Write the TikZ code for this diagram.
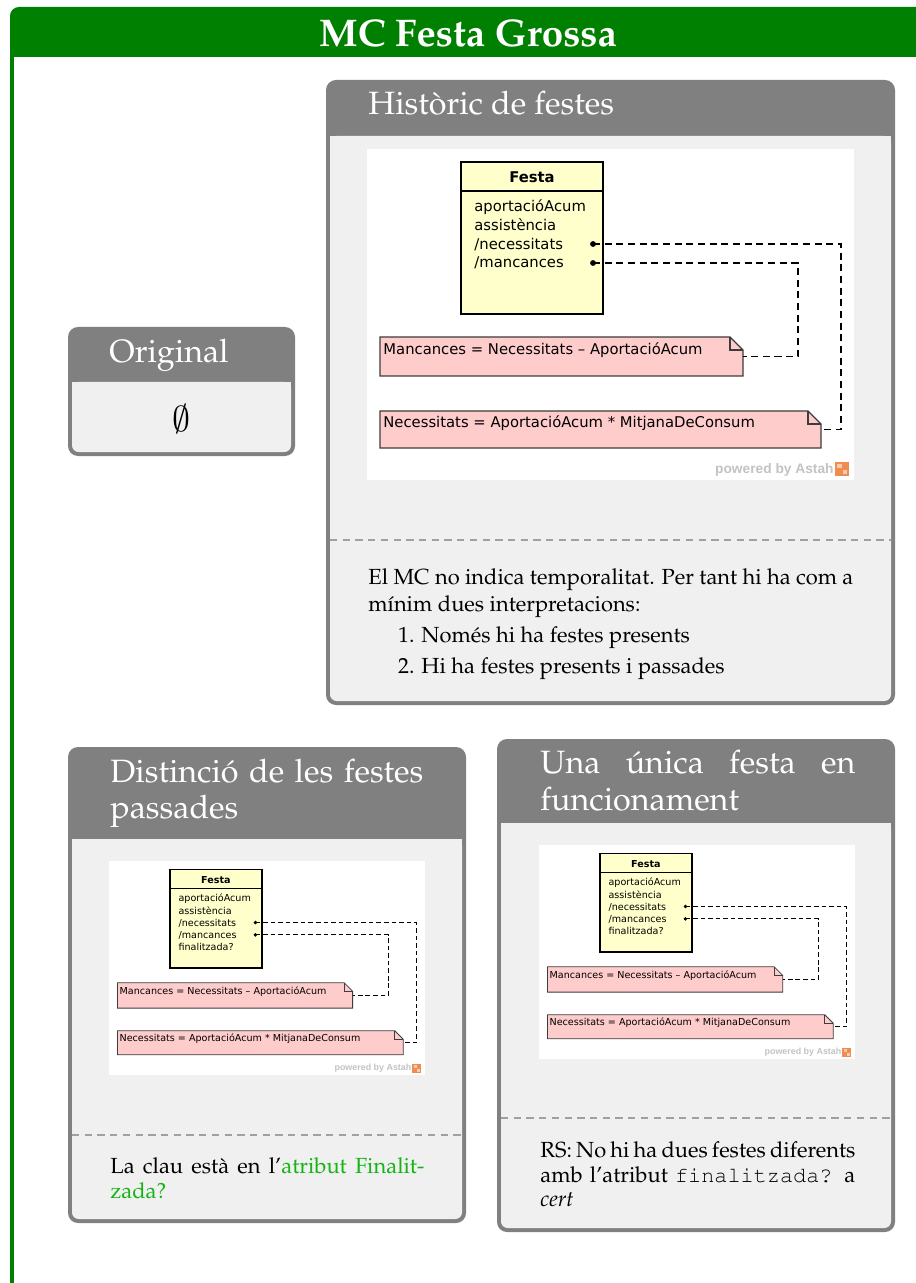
\documentclass[tikz,border=0pt]{standalone}
\usepackage{fontspec}
\usepackage[T1]{fontenc}
\usepackage{mathpazo}
\usepackage{courier}
\newfontfamily\astahfont{DejaVu Sans}
\newfontfamily\pwfont{Liberation Sans}
\newdimen\pxu \pxu=0.48pt
\newcommand\cmempty{{\fontencoding{OMS}\fontfamily{cmsy}\selectfont\char"3B}}
\definecolor{framegreen}{RGB}{0,128,0}
\definecolor{boxgray}{RGB}{128,128,128}
\definecolor{boxbody}{RGB}{240,240,240}
\definecolor{linkgreen}{RGB}{20,180,20}
\definecolor{classyellow}{RGB}{255,255,204}
\definecolor{notepink}{RGB}{255,204,204}
\definecolor{notegray}{RGB}{60,60,60}
\definecolor{sepgray}{RGB}{160,160,160}
\definecolor{pwgray}{RGB}{195,195,195}
\definecolor{astahorange}{RGB}{240,140,80}
\tikzset{
  titletext/.style={font=\fontsize{18.5}{22}\selectfont\bfseries, text=white, inner sep=0, anchor=base},
  hdrtext/.style={font=\fontsize{15.5}{18.7}\selectfont, text=white, inner sep=0, anchor=base west},
  bodytext/.style={font=\fontsize{10.5}{13.5}\selectfont, text=black, inner sep=0, anchor=base west},
  afont/.style={font=\astahfont\fontsize{7.1}{8.5}\selectfont, text=black, inner sep=0, anchor=base west},
  abold/.style={font=\astahfont\bfseries\fontsize{7.1}{8.5}\selectfont, text=black, inner sep=0},
  pwtext/.style={font=\pwfont\bfseries\fontsize{6.6}{8}\selectfont, text=pwgray, inner sep=0, anchor=base east},
  dotnode/.style={circle, fill=black, inner sep=0, minimum size=2.8pt},
  notearea/.style={draw=none, inner sep=0, rectangle},
  septline/.style={draw=sepgray, line width=0.5pt, dash pattern=on 3.5pt off 2.6pt},
}
\newcommand\infobox[5]{%
  \fill[boxgray, rounded corners=4.8pt] (#1,#2) rectangle (#3,#4);
  \fill[boxbody, rounded corners=3.2pt] (#1+4,#5) rectangle (#3-4,#4-4);
  \fill[boxbody] (#1+4,#5) rectangle (#3-4,#5+12);
}
\newcommand\astahdiag[5]{%
  \begin{scope}[shift={(#2,#3)}, scale=#4, transform shape]
    \pgfmathsetmacro\lwc{1.3*#4}%
    \pgfmathsetmacro\lwn{0.6*#4}%
    \pgfmathsetmacro\lwd{0.65*#4}%
    \pgfmathsetmacro\don{3.4*#4}%
    \pgfmathsetmacro\doff{2.2*#4}%
    \fill[white] (0,0) rectangle (487,331);
    % class
    \fill[classyellow] (94,13) rectangle (236,165);
    \draw[line width=\lwc pt] (94,13) rectangle (236,165);
    \draw[line width=\lwn pt] (94,42) -- (236,42);
    \node[abold, anchor=base] (#1cls) at (165,34) {Festa};
    \node[afont] (#1a1) at (107,63) {aportacióAcum};
    \node[afont] (#1a2) at (107,82) {assistència};
    \node[afont] (#1a3) at (107,101) {/necessitats};
    \node[afont] (#1a4) at (107,119) {/mancances};
    \if\relax\detokenize{#5}\relax\else
      \node[afont] (#1a5) at (107,138) {#5};
    \fi
    \node[dotnode] (#1d1) at (226,95) {};
    \node[dotnode] (#1d2) at (226,114) {};
    % notes
    \fill[notepink] (13,188) -- (363,188) -- (376,201) -- (376,227) -- (13,227) -- cycle;
    \draw[notegray, line width=\lwn pt] (13,188) -- (363,188) -- (376,201) -- (376,227) -- (13,227) -- cycle;
    \draw[notegray, line width=\lwn pt] (363,188) -- (363,201) -- (376,201);
    \node[notearea, minimum width=363\pxu, minimum height=39\pxu] (#1n1) at (194.5,207.5) {};
    \node[afont] (#1t1) at (16,206) {Mancances = Necessitats – AportacióAcum};
    \fill[notepink] (13,262) -- (441,262) -- (454,275) -- (454,299) -- (13,299) -- cycle;
    \draw[notegray, line width=\lwn pt] (13,262) -- (441,262) -- (454,275) -- (454,299) -- (13,299) -- cycle;
    \draw[notegray, line width=\lwn pt] (441,262) -- (441,275) -- (454,275);
    \node[notearea, minimum width=441\pxu, minimum height=37\pxu] (#1n2) at (233.5,280.5) {};
    \node[afont] (#1t2) at (16,279) {Necessitats = AportacióAcum * MitjanaDeConsum};
    % connectors
    \coordinate (#1c1) at (474,95);
    \coordinate (#1c2) at (431,114);
    \draw[line width=\lwd pt, dash pattern=on \don pt off \doff pt] (#1d1.center) -- (#1c1) |- (#1n2.east);
    \draw[line width=\lwd pt, dash pattern=on \don pt off \doff pt] (#1d2.center) -- (#1c2) |- (#1n1.east);
    % powered by
    \node[pwtext] (#1pw) at (467,324) {powered by Astah};
    \fill[astahorange] (468,313) rectangle (482,327);
    \fill[astahorange!45] (470,315) rectangle (475,319);
    \fill[astahorange!45] (476,321) rectangle (480,325);
  \end{scope}
}
\begin{document}
\begin{tikzpicture}[x=0.48pt, y=-0.48pt]
\useasboundingbox (0,0) rectangle (915,1283);
% outer frame
\fill[framegreen, rounded corners=4.3pt] (10,7) rectangle (980,1340);
\fill[white] (14,57) rectangle (980,1340);
\node[titletext] (title) at (468,47) {MC Festa Grossa};

% Original
\infobox{68}{327}{295}{456}{382}
\node[hdrtext] (orig) at (109,363) {Original};
\node[font=\fontsize{17.5}{20}\selectfont, inner sep=0] (empty) at (181,419) {\cmempty};

% Historic
\infobox{326}{80}{895}{705}{136}
\node[hdrtext] (hist) at (368,115) {Històric de festes};
\astahdiag{h}{367}{149}{1}{}
\draw[septline] (330,540) -- (891,540);
\node[bodytext] (h1) at (368,584) {\makebox[485\pxu][s]{El MC no indica temporalitat. Per tant hi ha com a}};
\node[bodytext] (h2) at (368,611) {mínim dues interpretacions:};
\node[bodytext, anchor=base east] (h3n) at (415,642) {1.};
\node[bodytext] (h3) at (421,642) {Només hi ha festes presents};
\node[bodytext, anchor=base east] (h4n) at (415,673) {2.};
\node[bodytext] (h4) at (421,673) {Hi ha festes presents i passades};

% Distincio
\infobox{68}{747}{466}{1223}{839}
\node[hdrtext] (dist1) at (110,782) {\makebox[313\pxu][s]{Distinció de les festes}};
\node[hdrtext] (dist2) at (110,818) {passades};
\astahdiag{d}{109}{861}{0.648}{finalitzada?}
\draw[septline] (72,1135) -- (462,1135);
\node[bodytext] (d1) at (110,1173) {\makebox[314\pxu][s]{La clau està en l'\textcolor{linkgreen}{atribut Finalit-}}};
\node[bodytext, text=linkgreen] (d2) at (110,1198) {zada?};

% Una unica
\infobox{497}{739}{895}{1232}{823}
\node[hdrtext] (una1) at (540,773) {\makebox[315\pxu][s]{Una única festa en}};
\node[hdrtext] (una2) at (540,810) {funcionament};
\astahdiag{u}{539}{845}{0.648}{finalitzada?}
\draw[septline] (501,1118) -- (891,1118);
\node[bodytext] (u1) at (540,1157) {\makebox[315\pxu][s]{RS: No hi ha dues festes diferents}};
\node[bodytext] (u2) at (540,1182) {\makebox[315\pxu][s]{amb l'atribut \texttt{finalitzada?} a}};
\node[bodytext] (u3) at (540,1206) {\emph{cert}};
\end{tikzpicture}
\end{document}
